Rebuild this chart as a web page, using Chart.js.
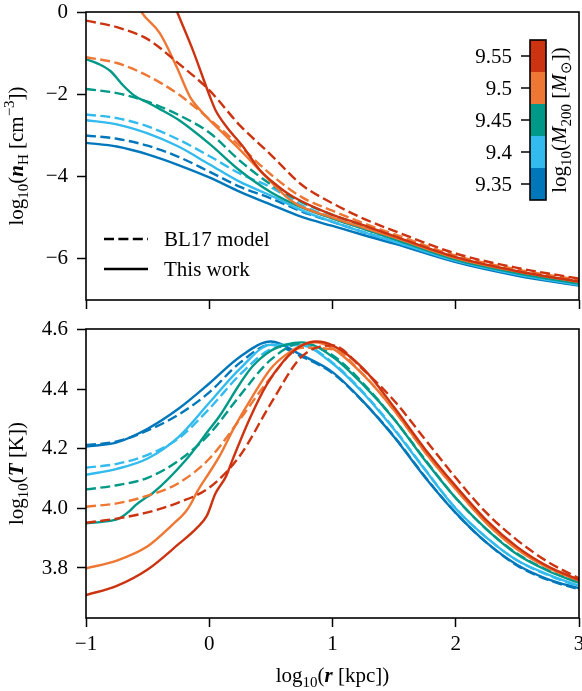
<!DOCTYPE html>
<html><head><meta charset="utf-8">
<script src="https://cdn.jsdelivr.net/npm/chart.js@4"></script>
<style>
html,body{margin:0;padding:0;background:#fff;}
#wrap{position:relative;width:582px;height:691px;overflow:hidden;}
canvas{position:absolute;left:0;}
</style></head><body>
<div id="wrap">
<canvas id="cTop" width="582" height="320" style="top:0px"></canvas>
<canvas id="cBot" width="582" height="371" style="top:320px"></canvas>
</div>
<script>
const FONT = '"Liberation Serif","Times New Roman",Times,serif';

// colour legend (log10 M200)
const massLabels = ['9.35', '9.4', '9.45', '9.5', '9.55'];
const massColors = ['#0077bb', '#33bbee', '#009988', '#ee7733', '#cc3311'];

// tick labels
const xTickValues = [-1, 0, 1, 2, 3];
const nhTickValues = [-6, -4, -2, 0];
const tTickValues = [3.8, 4.0, 4.2, 4.4, 4.6];

// ---------- top panel: log10(nH) ----------
const rTop = [-1, -0.75, -0.5, -0.25, 0, 0.25, 0.5, 0.75, 1, 1.25, 1.5, 2, 2.5, 3];
// BL17 model (dashed)
const nhModel935 = [-3.0, -3.08, -3.25, -3.52, -3.88, -4.25, -4.53, -4.85, -5.1, -5.35, -5.58, -6.05, -6.38, -6.63];
const nhModel940 = [-2.49, -2.58, -2.78, -3.1, -3.5, -3.93, -4.26, -4.7, -5.0, -5.27, -5.53, -6.02, -6.35, -6.6];
const nhModel945 = [-1.87, -1.97, -2.18, -2.5, -2.93, -3.62, -4.19, -4.62, -4.93, -5.2, -5.47, -5.98, -6.31, -6.57];
const nhModel950 = [-1.10, -1.24, -1.55, -2.0, -2.6, -3.26, -3.95, -4.5, -4.83, -5.13, -5.4, -5.92, -6.26, -6.51];
const nhModel955 = [-0.21, -0.37, -0.66, -1.25, -1.9, -2.76, -3.47, -4.2, -4.65, -5.02, -5.32, -5.87, -6.22, -6.48];
// This work (solid)
const nhWork935 = [-3.18, -3.27, -3.46, -3.72, -4.02, -4.37, -4.68, -4.98, -5.2, -5.42, -5.63, -6.08, -6.41, -6.65];
const nhWork940 = [-2.63, -2.73, -2.95, -3.27, -3.7, -4.13, -4.46, -4.82, -5.1, -5.35, -5.58, -6.05, -6.38, -6.63];
const rTopWork945 = [-1, -0.9, -0.8, -0.7, -0.6, -0.5, -0.4, -0.25, 0, 0.25, 0.5, 0.75, 1, 1.25, 1.5, 2, 2.5, 3];
const nhWork945 = [-1.15, -1.26, -1.44, -1.78, -2.05, -2.2, -2.36, -2.62, -3.2, -3.86, -4.38, -4.75, -5.02, -5.27, -5.52, -6.02, -6.35, -6.6];
const rTopWork950 = [-0.6, -0.55, -0.4, -0.265, -0.157, -0.13, 0, 0.14, 0.276, 0.41, 0.68, 1, 1.25, 1.5, 2, 2.5, 3];
const nhWork950 = [0.3, 0, -0.52, -1.33, -2.06, -2.18, -2.62, -3.03, -3.43, -3.85, -4.62, -5.0, -5.24, -5.48, -5.98, -6.31, -6.56];
const rTopWork955 = [-0.45, -0.26, -0.13, 0.006, 0.05, 0.14, 0.276, 0.41, 0.547, 0.68, 1, 1.25, 1.5, 2, 2.5, 3];
const nhWork955 = [1.45, 0, -0.95, -2.06, -2.38, -2.79, -3.28, -3.84, -4.21, -4.49, -4.93, -5.18, -5.45, -5.96, -6.3, -6.55];

// ---------- bottom panel: log10(T) ----------
const rBot = [-1, -0.75, -0.5, -0.25, 0, 0.25, 0.5, 0.75, 1, 1.25, 1.5, 1.75, 2, 2.25, 2.5, 2.75, 3];
const tModel935 = [4.213, 4.225, 4.262, 4.315, 4.39, 4.49, 4.55, 4.51, 4.455, 4.358, 4.242, 4.107, 3.985, 3.885, 3.808, 3.76, 3.728];
const tModel940 = [4.137, 4.15, 4.18, 4.235, 4.335, 4.45, 4.535, 4.55, 4.49, 4.39, 4.268, 4.132, 4.0, 3.902, 3.825, 3.776, 3.738];
const tModel945 = [4.064, 4.078, 4.103, 4.16, 4.25, 4.38, 4.5, 4.555, 4.515, 4.42, 4.3, 4.165, 4.035, 3.93, 3.848, 3.792, 3.752];
const tModel950 = [4.006, 4.017, 4.043, 4.085, 4.167, 4.3, 4.44, 4.54, 4.535, 4.45, 4.33, 4.19, 4.065, 3.952, 3.865, 3.805, 3.76];
const tModel955 = [3.952, 3.966, 3.987, 4.02, 4.07, 4.178, 4.353, 4.51, 4.548, 4.466, 4.362, 4.233, 4.103, 3.985, 3.893, 3.82, 3.765];
const tWork935 = [4.208, 4.222, 4.268, 4.335, 4.42, 4.51, 4.561, 4.515, 4.458, 4.359, 4.24, 4.105, 3.985, 3.885, 3.81, 3.762, 3.732];
const tWork940 = [4.113, 4.133, 4.168, 4.24, 4.355, 4.47, 4.55, 4.548, 4.487, 4.387, 4.265, 4.13, 4.0, 3.902, 3.825, 3.778, 3.74];
const rBotWork945 = [-1, -0.87, -0.73, -0.65, -0.595, -0.5, -0.46, -0.19, 0, 0.081, 0.25, 0.35, 0.5, 0.62, 0.75, 1, 1.25, 1.5, 1.75, 2, 2.25, 2.5, 2.75, 3];
const tWork945 = [3.95, 3.955, 3.967, 3.99, 4.012, 4.04, 4.051, 4.163, 4.265, 4.309, 4.42, 4.477, 4.53, 4.55, 4.558, 4.51, 4.415, 4.3, 4.162, 4.035, 3.93, 3.845, 3.79, 3.75];
const rBotWork950 = [-1, -0.75, -0.5, -0.3, -0.19, -0.15, -0.1, 0, 0.081, 0.2, 0.35, 0.5, 0.62, 0.75, 0.85, 1, 1.25, 1.5, 1.75, 2, 2.25, 2.5, 2.75, 3];
const tWork950 = [3.799, 3.825, 3.873, 3.945, 3.99, 4.015, 4.055, 4.12, 4.174, 4.27, 4.376, 4.47, 4.516, 4.548, 4.558, 4.538, 4.449, 4.33, 4.19, 4.065, 3.95, 3.862, 3.8, 3.757];
const rBotWork955 = [-1, -0.75, -0.5, -0.25, -0.1, -0.02, 0.05, 0.135, 0.195, 0.33, 0.465, 0.6, 0.735, 0.87, 1, 1.25, 1.5, 1.75, 2, 2.25, 2.5, 2.75, 3];
const tWork955 = [3.709, 3.74, 3.795, 3.88, 3.935, 3.975, 4.05, 4.107, 4.17, 4.303, 4.415, 4.494, 4.544, 4.561, 4.548, 4.47, 4.34, 4.2, 4.075, 3.96, 3.87, 3.805, 3.76];

// ---------- helpers ----------
const fmtInt = v => String(Math.round(v)).replace('-', '\u2212');
const fmtOne = v => v.toFixed(1).replace('-', '\u2212');
const DASH = [10, 4.4];
const LW = 2.4;

function line(xs, ys, color, dashed) {
  return {
    data: xs.map((x, i) => ({ x: x, y: ys[i] })),
    borderColor: color, backgroundColor: color,
    borderWidth: LW, borderDash: dashed ? DASH : [],
    pointRadius: 0, fill: false, cubicInterpolationMode: 'monotone', clip: 0
  };
}
function makeSets(mx, my, wx, wy) {
  const sets = [];
  for (let i = massColors.length - 1; i >= 0; i--) {
    sets.push(line(mx[i], my[i], massColors[i], true));
    sets.push(line(wx[i], wy[i], massColors[i], false));
  }
  return sets;
}
function fontStr(p) {
  return (p.it ? 'italic ' : '') + (p.b ? 'bold ' : '') + p.s + 'px ' + FONT;
}
function drawRich(ctx, parts, x, y, rot, align) {
  ctx.save();
  ctx.translate(x, y);
  if (rot) ctx.rotate(rot);
  let w = 0;
  parts.forEach(p => { ctx.font = fontStr(p); p.w = ctx.measureText(p.t).width; w += p.w; });
  let cx = align === 'center' ? -w / 2 : (align === 'right' ? -w : 0);
  ctx.textAlign = 'left'; ctx.textBaseline = 'alphabetic'; ctx.fillStyle = '#000';
  parts.forEach(p => { ctx.font = fontStr(p); ctx.fillText(p.t, cx, p.dy || 0); cx += p.w; });
  ctx.restore();
}
const S = 21, SS = 15;
function logLabel(inner) {
  return [{ t: 'log', s: S }, { t: '10', s: SS, dy: 5 }, { t: '(', s: S }].concat(inner, [{ t: ')', s: S }]);
}

function makeChart(id, datasets, yMin, yMax, yTicks, yFmt, showX, pad, xHeight, extra) {
  return new Chart(document.getElementById(id), {
    type: 'line',
    data: { datasets: datasets },
    options: {
      responsive: false, animation: false, devicePixelRatio: 1, events: [],
      layout: { padding: pad },
      plugins: { legend: { display: false }, tooltip: { enabled: false }, title: { display: false } },
      scales: {
        x: {
          type: 'linear', min: -1, max: 3,
          afterBuildTicks: s => { s.ticks = xTickValues.map(v => ({ value: v })); },
          ticks: { callback: v => showX ? fmtInt(v) : '', font: { family: FONT, size: S }, color: '#000', padding: 5, maxRotation: 0, autoSkip: false },
          grid: { drawOnChartArea: false, drawTicks: true, tickLength: 9, tickColor: '#000', tickWidth: 1.5 },
          border: { display: false },
          afterFit: s => { s.height = xHeight; s.paddingLeft = 0; s.paddingRight = 0; }
        },
        y: {
          type: 'linear', min: yMin, max: yMax,
          afterBuildTicks: s => { s.ticks = yTicks.map(v => ({ value: v })); },
          ticks: { callback: yFmt, font: { family: FONT, size: S }, color: '#000', padding: 9, autoSkip: false },
          grid: { drawOnChartArea: false, drawTicks: true, tickLength: 9, tickColor: '#000', tickWidth: 1.5 },
          border: { display: false },
          afterFit: s => { s.width = 86; s.paddingTop = 0; s.paddingBottom = 0; }
        }
      }
    },
    plugins: [{
      id: 'frameAndText',
      afterDraw(chart) {
        const ctx = chart.ctx, a = chart.chartArea;
        ctx.save();
        ctx.strokeStyle = '#000'; ctx.lineWidth = 1.6;
        ctx.strokeRect(a.left, a.top, a.right - a.left, a.bottom - a.top);
        ctx.restore();
        extra(chart, ctx, a);
      }
    }]
  });
}

// ---------- top chart ----------
makeChart('cTop',
  makeSets([rTop, rTop, rTop, rTop, rTop],
           [nhModel935, nhModel940, nhModel945, nhModel950, nhModel955],
           [rTop, rTop, rTopWork945, rTopWork950, rTopWork955],
           [nhWork935, nhWork940, nhWork945, nhWork950, nhWork955]),
  -7, 0, nhTickValues, fmtInt, false, { left: 0, right: 3, top: 12, bottom: 0 }, 20,
  (chart, ctx, a) => {
    // y title
    drawRich(ctx, logLabel([{ t: 'n', s: S, it: 1, b: 1 }, { t: 'H', s: SS, dy: 5 }, { t: ' [cm', s: S }, { t: '\u22123', s: SS, dy: -9 }, { t: ']', s: S }]),
      23, (a.top + a.bottom) / 2, -Math.PI / 2, 'center');
    // legend
    ctx.save();
    ctx.strokeStyle = '#000'; ctx.lineWidth = LW;
    ctx.setLineDash(DASH);
    ctx.beginPath(); ctx.moveTo(104, 239); ctx.lineTo(148, 239); ctx.stroke();
    ctx.setLineDash([]);
    ctx.beginPath(); ctx.moveTo(104, 269); ctx.lineTo(148, 269); ctx.stroke();
    ctx.fillStyle = '#000'; ctx.font = S + 'px ' + FONT; ctx.textAlign = 'left'; ctx.textBaseline = 'alphabetic';
    ctx.fillText('BL17 model', 164, 246);
    ctx.fillText('This work', 164, 276);
    // colour bar
    const cbL = 530, cbT = 40, cbW = 16, seg = 32, n = massColors.length, cbB = cbT + seg * n;
    for (let i = 0; i < n; i++) {
      ctx.fillStyle = massColors[i];
      ctx.fillRect(cbL, cbB - (i + 1) * seg, cbW, seg);
    }
    ctx.strokeStyle = '#000'; ctx.lineWidth = 1.6;
    ctx.strokeRect(cbL, cbT, cbW, cbB - cbT);
    ctx.lineWidth = 1.5;
    ctx.fillStyle = '#000'; ctx.textAlign = 'right'; ctx.textBaseline = 'middle';
    for (let i = 0; i < n; i++) {
      const yy = cbB - (i + 0.5) * seg;
      ctx.beginPath(); ctx.moveTo(cbL - 9, yy); ctx.lineTo(cbL, yy); ctx.stroke();
      ctx.fillText(massLabels[i], cbL - 18, yy + 1);
    }
    ctx.restore();
    drawRich(ctx, logLabel([{ t: 'M', s: S, it: 1 }, { t: '200', s: SS, dy: 5 }, { t: ' [', s: S }, { t: 'M', s: S, it: 1 }, { t: '\u2299', s: SS, dy: 5 }, { t: ']', s: S }]),
      566, (cbT + cbB) / 2, -Math.PI / 2, 'center');
  });

// ---------- bottom chart ----------
makeChart('cBot',
  makeSets([rBot, rBot, rBot, rBot, rBot],
           [tModel935, tModel940, tModel945, tModel950, tModel955],
           [rBot, rBot, rBotWork945, rBotWork950, rBotWork955],
           [tWork935, tWork940, tWork945, tWork950, tWork955]),
  3.632, 4.603, tTickValues, fmtOne, true, { left: 0, right: 3, top: 9, bottom: 0 }, 73,
  (chart, ctx, a) => {
    drawRich(ctx, logLabel([{ t: 'T', s: S, it: 1, b: 1 }, { t: ' [K]', s: S }]),
      23, (a.top + a.bottom) / 2, -Math.PI / 2, 'center');
    drawRich(ctx, logLabel([{ t: 'r', s: S, it: 1, b: 1 }, { t: ' [kpc]', s: S }]),
      (a.left + a.right) / 2, 362, 0, 'center');
  });
</script>
</body></html>
